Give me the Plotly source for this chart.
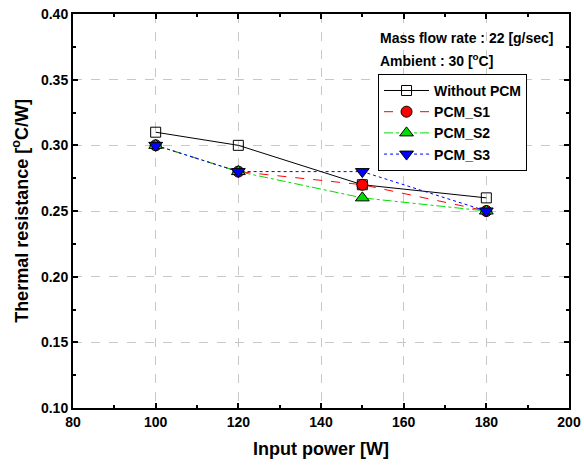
import plotly.graph_objects as go

power = [100, 120, 150, 180]
without_pcm = [0.31, 0.30, 0.27, 0.26]
pcm_s1 = [0.30, 0.28, 0.27, 0.25]
pcm_s2 = [0.30, 0.28, 0.26, 0.25]
pcm_s3 = [0.30, 0.28, 0.28, 0.25]

FONT = "Liberation Sans, Arial, sans-serif"

fig = go.Figure()
fig.add_trace(go.Scatter(x=power, y=without_pcm, name="Without PCM", mode="lines+markers",
                         line=dict(color="black", width=1),
                         marker=dict(symbol="square-open", size=10, color="black", line=dict(width=1))))
fig.add_trace(go.Scatter(x=power, y=pcm_s1, name="PCM_S1", mode="lines+markers",
                         line=dict(color="red", width=1, dash="dash"),
                         marker=dict(symbol="circle", size=11, color="red", line=dict(color="black", width=1))))
fig.add_trace(go.Scatter(x=power, y=pcm_s2, name="PCM_S2", mode="lines+markers",
                         line=dict(color="#00dd00", width=1, dash="dashdot"),
                         marker=dict(symbol="triangle-up", size=12, color="#00dd00", line=dict(color="black", width=1))))
fig.add_trace(go.Scatter(x=power, y=pcm_s3, name="PCM_S3", mode="lines+markers",
                         line=dict(color="blue", width=1, dash="dot"),
                         marker=dict(symbol="triangle-down", size=12, color="blue", line=dict(color="black", width=1))))

axis_common = dict(showline=True, linecolor="black", linewidth=2, mirror="allticks",
                   ticks="inside", ticklen=5, tickwidth=2, tickcolor="black",
                   showgrid=True, gridcolor="#c8c8c8", griddash="dash", gridwidth=1,
                   zeroline=False, automargin=False,
                   tickfont=dict(family=FONT, size=14, color="black", weight="bold"))

fig.update_xaxes(range=[80, 200], dtick=20, tickformat="d",
                 minor=dict(dtick=10, ticks="inside", ticklen=3, tickwidth=2, tickcolor="black", showgrid=False),
                 title=dict(text="Input power [W]", font=dict(family=FONT, size=18, color="black", weight="bold"), standoff=14),
                 **axis_common)
fig.update_yaxes(range=[0.10, 0.40], dtick=0.05, tickformat=".2f",
                 minor=dict(dtick=0.025, ticks="inside", ticklen=3, tickwidth=2, tickcolor="black", showgrid=False),
                 title=dict(text="Thermal resistance [<sup>o</sup>C/W]", font=dict(family=FONT, size=18, color="black", weight="bold"), standoff=8),
                 **axis_common)

fig.add_annotation(x=0.614, y=0.939, xref="paper", yref="paper", xanchor="left", yanchor="middle",
                   text="Mass flow rate : 22 [g/sec]", showarrow=False,
                   font=dict(family=FONT, size=14, color="black", weight="bold"))
fig.add_annotation(x=0.614, y=0.883, xref="paper", yref="paper", xanchor="left", yanchor="middle",
                   text="Ambient : 30 [<sup>o</sup>C]", showarrow=False,
                   font=dict(family=FONT, size=14, color="black", weight="bold"))

fig.update_layout(width=584, height=465, plot_bgcolor="white", paper_bgcolor="white",
                  margin=dict(l=73, r=15, t=14, b=57, autoexpand=False),
                  showlegend=True,
                  legend=dict(x=0.615, y=0.848, xanchor="left", yanchor="top",
                              bordercolor="black", borderwidth=1, bgcolor="white",
                              font=dict(family=FONT, size=14, color="black", weight="bold"),
                              tracegroupgap=0, itemwidth=45))

post = ("var s=document.documentElement.style;s.margin='0';s.padding='0';s.overflow='hidden';"
        "var b=document.body.style;b.margin='0';b.padding='0';b.overflow='hidden';b.height='465px';b.width='584px';")
fig.write_html("out.html", config={"displayModeBar": False}, post_script=post)
